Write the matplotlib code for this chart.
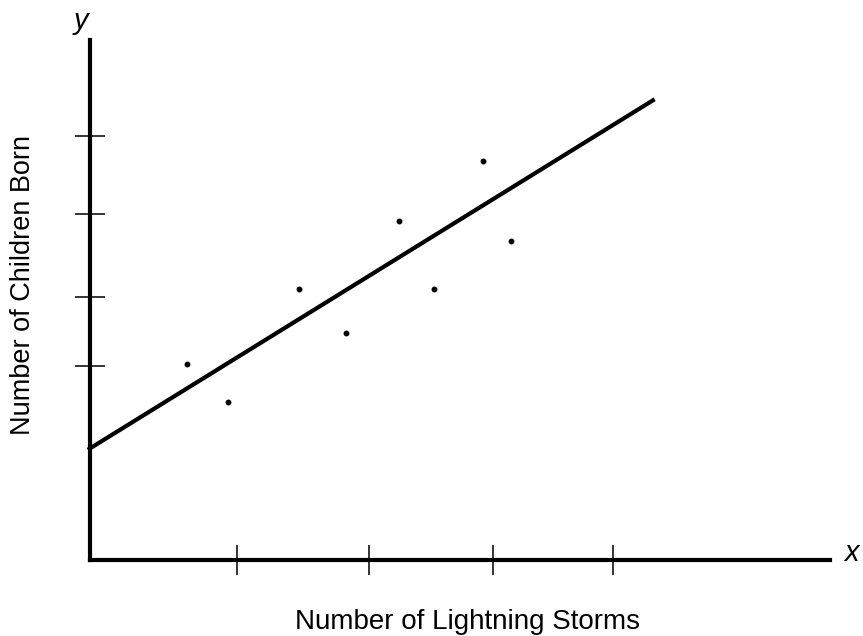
import matplotlib
matplotlib.use('Agg')
import matplotlib.pyplot as plt

# Data (arbitrary units 0-10 on both axes)
storms = [1.31, 1.86, 2.82, 3.46, 4.17, 4.65, 5.31, 5.69]
children = [3.77, 3.03, 5.22, 4.36, 6.52, 5.21, 7.68, 6.14]
fit_x = [-0.03, 7.63]
fit_y = [2.12, 8.86]
x_ticks = [1.99, 3.77, 5.45, 7.07]
y_ticks = [3.73, 5.06, 6.66, 8.16]

plt.rcParams['font.family'] = ['Liberation Sans', 'DejaVu Sans']

W, H = 863, 636
fig = plt.figure(figsize=(W / 100, H / 100), dpi=100)
ax = fig.add_axes([90 / W, (H - 560) / H, 740 / W, 520 / H])
ax.set_xlim(0, 10)
ax.set_ylim(0, 10)

# Regression line and the data points
ax.plot(fit_x, fit_y, color='black', lw=3, solid_capstyle='butt', clip_on=False)
ax.plot(storms, children, 'o', color='black', ms=3.2, clip_on=False)

# Axes: only left and bottom, thick
for side in ['top', 'right']:
    ax.spines[side].set_visible(False)
for side in ['left', 'bottom']:
    ax.spines[side].set_linewidth(3)
    ax.spines[side].set_capstyle('projecting')

ax.set_xticks(x_ticks)
ax.set_yticks(y_ticks)
ax.set_xticklabels([])
ax.set_yticklabels([])
ax.tick_params(direction='inout', length=21, width=1.1, color='black')

# Labels
fig.text(467 / W, 1 - 622 / H, 'Number of Lightning Storms',
         ha='center', va='center', fontsize=20)
fig.text(23 / W, 1 - 285 / H, 'Number of Children Born',
         ha='center', va='center', rotation=90, fontsize=19.5)
fig.text(81 / W, 1 - 21 / H, 'y', ha='center', va='center',
         fontsize=21, style='italic')
fig.text(851 / W, 1 - 553 / H, 'x', ha='center', va='center',
         fontsize=21, style='italic')

fig.savefig('out.png', dpi=100, facecolor='white')
